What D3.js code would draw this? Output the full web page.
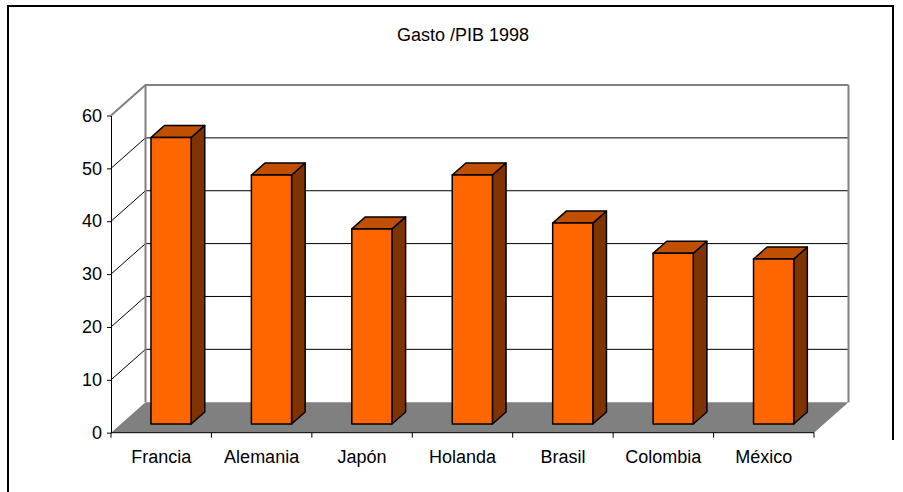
<!DOCTYPE html>
<html>
<head>
<meta charset="utf-8">
<script src="https://cdn.jsdelivr.net/npm/d3@7"></script>
<style>
  body { margin: 0; background: #fff; }
  svg text { font-family: "Liberation Sans", Arial, sans-serif; fill: #000; }
</style>
</head>
<body>
<svg id="chart" width="903" height="492"></svg>
<script>
// Chart data
const title = "Gasto /PIB 1998";
const paises = ["Francia", "Alemania", "Japón", "Holanda", "Brasil", "Colombia", "México"];
const gasto = [54.2, 47.1, 36.9, 47.1, 38.0, 32.3, 31.2];
const yTicks = [0, 10, 20, 30, 40, 50, 60];

const svg = d3.select("#chart");

// 3D depth offset of the plot box (back wall vs front plane)
const DX = 34.5, DY = -30.5;
// depth of the bars inside the box (0 = front, 1 = back)
const z0 = 0.285, z1 = 0.68;

const plot = { left: 111, right: 814, top: 115.5, bottom: 432.7 };

const y = d3.scaleLinear().domain([0, 60]).range([plot.bottom, plot.top]);
const xCat = d3.scaleBand().domain(paises).range([plot.left, plot.right]).padding(0);
const xBar = d3.scaleBand().domain(paises).range([plot.left, plot.right])
  .paddingInner(0.6).paddingOuter(0.3);

// project a front-plane point to depth z
const P = (px, py, z) => [px + z * DX, py + z * DY];
const pts = arr => arr.map(p => p.join(",")).join(" ");

// Outer frame
svg.append("path")
  .attr("d", "M8,492 L8,6 L893,6 L893,440")
  .attr("fill", "none").attr("stroke", "#000").attr("stroke-width", 2);

// Title
svg.append("text")
  .attr("x", 463).attr("y", 40.5)
  .attr("text-anchor", "middle")
  .attr("font-size", 18)
  .text(title);

// Floor
svg.append("polygon")
  .attr("points", pts([
    [plot.left, plot.bottom], [plot.right, plot.bottom],
    P(plot.right, plot.bottom, 1), P(plot.left, plot.bottom, 1)
  ]))
  .attr("fill", "#808080");

// Back wall gridlines + side wall gridlines
const grid = svg.append("g");
yTicks.filter(v => v > 0).forEach(v => {
  const col = v === 60 ? "#808080" : "#000";
  const a = [plot.left, y(v)], b = P(plot.left, y(v), 1), c = P(plot.right, y(v), 1);
  grid.append("polyline")
    .attr("points", pts([a, b, c]))
    .attr("fill", "none").attr("stroke", col).attr("stroke-width", v === 60 ? 2 : 1);
});

// Back wall vertical edges
[plot.left, plot.right].forEach(px => {
  const t = P(px, plot.top, 1), b = P(px, plot.bottom, 1);
  grid.append("line")
    .attr("x1", t[0]).attr("y1", t[1]).attr("x2", b[0]).attr("y2", b[1])
    .attr("stroke", "#808080").attr("stroke-width", 2);
});

// Y axis
const yAxis = svg.append("g")
  .attr("transform", `translate(${plot.left},0)`)
  .call(d3.axisLeft(y).tickValues(yTicks).tickSize(4).tickPadding(5).tickSizeOuter(0));
yAxis.select(".domain").attr("stroke", "#000");
yAxis.selectAll("text").attr("font-size", 18).attr("font-family", "Liberation Sans, Arial, sans-serif");

// X axis line, ticks at category boundaries, labels
const xAxis = svg.append("g");
xAxis.append("line")
  .attr("x1", plot.left).attr("x2", plot.right)
  .attr("y1", plot.bottom).attr("y2", plot.bottom)
  .attr("stroke", "#000");
const bounds = paises.map(d => xCat(d)).concat([plot.right]);
xAxis.selectAll(".tk").data(bounds).enter().append("line")
  .attr("x1", d => d).attr("x2", d => d)
  .attr("y1", plot.bottom).attr("y2", plot.bottom + 5)
  .attr("stroke", "#000");
xAxis.selectAll(".lbl").data(paises).enter().append("text")
  .attr("x", d => xCat(d) + xCat.bandwidth() / 2)
  .attr("y", 463)
  .attr("text-anchor", "middle")
  .attr("font-size", 18)
  .text(d => d);

// 3D bars
const bars = svg.append("g")
  .selectAll("g").data(paises.map((p, i) => ({ p, v: gasto[i] }))).enter().append("g");

bars.each(function (d) {
  const g = d3.select(this);
  const xl = xBar(d.p), xr = xl + xBar.bandwidth();
  const yt = y(d.v), yb = y(0);
  const ftl = P(xl, yt, z0), ftr = P(xr, yt, z0), fbr = P(xr, yb, z0), fbl = P(xl, yb, z0);
  const btl = P(xl, yt, z1), btr = P(xr, yt, z1), bbr = P(xr, yb, z1);
  g.append("polygon").attr("points", pts([ftr, btr, bbr, fbr]))
    .attr("fill", "#7f3300").attr("stroke", "#000").attr("stroke-width", 1.5).attr("stroke-linejoin", "round");
  g.append("polygon").attr("points", pts([ftl, ftr, btr, btl]))
    .attr("fill", "#c04f00").attr("stroke", "#000").attr("stroke-width", 1.5).attr("stroke-linejoin", "round");
  g.append("polygon").attr("points", pts([ftl, ftr, fbr, fbl]))
    .attr("fill", "#ff6600").attr("stroke", "#000").attr("stroke-width", 1.5).attr("stroke-linejoin", "round");
});
</script>
</body>
</html>
